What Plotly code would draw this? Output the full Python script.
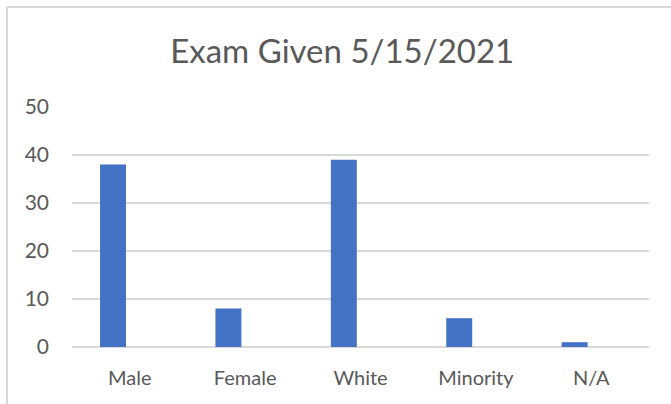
import plotly.graph_objects as go

categories = ["Male", "Female", "White", "Minority", "N/A"]
counts = [38, 8, 39, 6, 1]
y_ticks = [0, 10, 20, 30, 40, 50]
title_text = "Exam Given 5/15/2021"

FONT = "Lato"
GREY = "#595959"
GRID = "#d9d9d9"

fig = go.Figure()
fig.add_trace(go.Bar(
    x=categories, y=counts,
    marker=dict(color="#4472c4", line=dict(width=0)),
    width=0.225, offset=-0.257,
    hoverinfo="x+y",
))

fig.update_layout(
    width=671, height=404,
    margin=dict(l=72, r=22, t=107, b=57),
    paper_bgcolor="white", plot_bgcolor="white",
    font=dict(family=FONT, color=GREY, size=20),
    showlegend=False,
    title=dict(text=title_text, x=0.51, xanchor="center", y=1 - 63/404, yanchor="bottom",
               yref="container", font=dict(family=FONT, size=33, color=GREY)),
    xaxis=dict(range=[-0.5, 4.5], showgrid=False, showline=False, ticks="",
               tickfont=dict(size=20, color=GREY), ticklabelstandoff=17),
    yaxis=dict(range=[0, 50], tickvals=y_ticks, showgrid=True, gridcolor=GRID, gridwidth=1.5,
               zeroline=True, zerolinecolor=GRID, zerolinewidth=1.5, showline=False, ticks="",
               tickfont=dict(size=21, color=GREY), ticklabelstandoff=22),
    shapes=[
        dict(type="line", xref="paper", yref="paper", x0=-65/577, x1=1.1, y0=(404-57-7)/240, y1=(404-57-7)/240,
             line=dict(color=GRID, width=2)),
        dict(type="line", xref="paper", yref="paper", x0=-65/577, x1=-65/577, y0=(404-57-7)/240, y1=-0.3,
             line=dict(color=GRID, width=2)),
    ],
)

fig.write_html("out.html", config={"displayModeBar": False},
               post_script="document.body.style.margin='0';document.body.style.overflow='hidden';")
